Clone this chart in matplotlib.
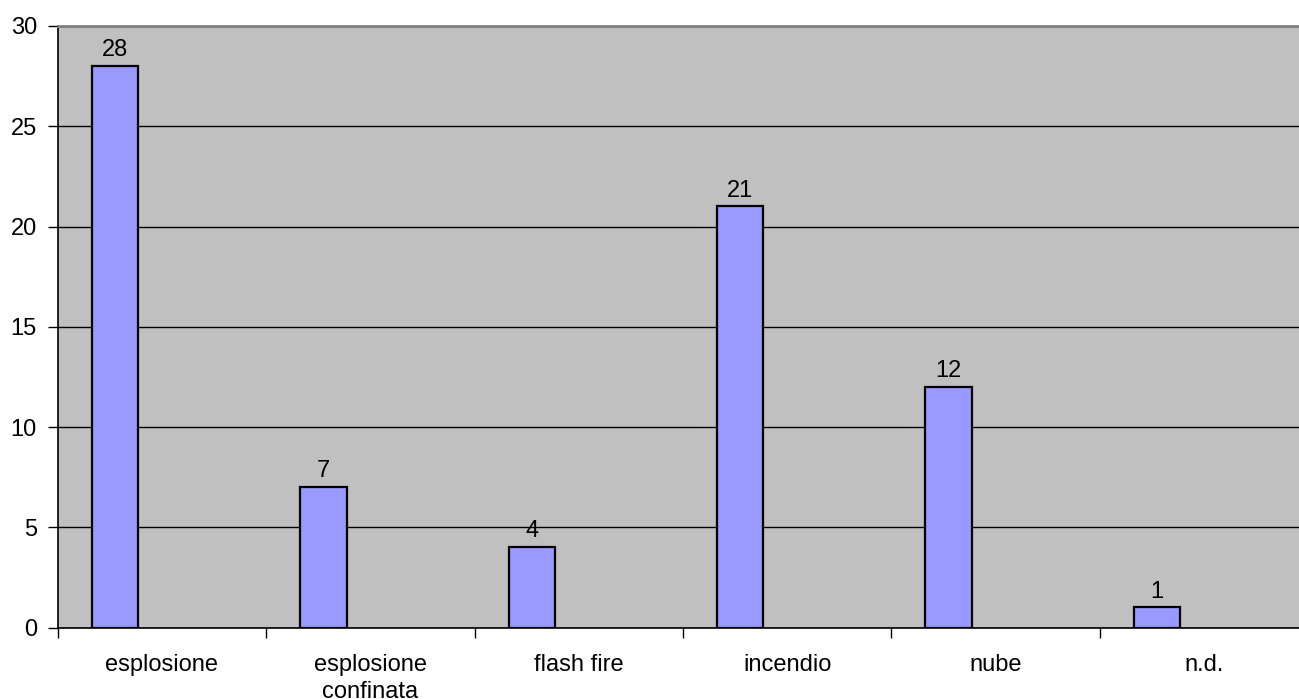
import numpy as np
import matplotlib
matplotlib.use("Agg")
import matplotlib.pyplot as plt

# # # # # # # # # # # # # # # # # # # # # # # # # # # # # # # # # # #
categories = ["esplosione", "esplosione\nconfinata", "flash fire",
              "incendio", "nube", "n.d."]
counts = [28, 7, 4, 21, 12, 1]
yticks = [0, 5, 10, 15, 20, 25, 30]

plt.rcParams['font.family'] = ['Liberation Sans', 'DejaVu Sans']
fs = 17

fig = plt.figure(figsize=(12.99, 6.99), dpi=100)
# plot area runs a little past the right edge of the figure
ax = fig.add_axes([57.7/1299, 1-627.5/699, 1250.4/1299, (627.5-26)/699])
ax.set_facecolor('#C0C0C0')

x = np.arange(len(categories))
ax.bar(x - 0.225, counts, width=0.2235, color='#9999FF',
       edgecolor='black', linewidth=1.6, zorder=3)
for xi, v in zip(x, counts):
    ax.annotate(str(v), (xi - 0.225, v), xytext=(0, 3.5),
                textcoords='offset points', ha='center', va='bottom',
                fontsize=fs)

ax.set_xlim(-0.5, len(categories) - 0.5)
ax.set_ylim(0, 30)
ax.set_yticks(yticks)
ax.yaxis.grid(True, color='black', linewidth=1.0, zorder=1)
ax.set_axisbelow(True)

# tick marks on category boundaries, labels at category centres
ax.set_xticks(np.arange(len(categories) + 1) - 0.5)
ax.set_xticklabels([])
ax.set_xticks(x, minor=True)
ax.set_xticklabels(categories, minor=True, fontsize=fs, linespacing=1.3)
ax.tick_params(axis='x', which='major', length=7, width=1, direction='out')
ax.tick_params(axis='x', which='minor', length=0, pad=19)
ax.tick_params(axis='y', length=7, width=1, direction='out', labelsize=fs, pad=8)

ax.spines['top'].set_color('#808080')
ax.spines['top'].set_linewidth(2)
ax.spines['right'].set_visible(False)
ax.spines['left'].set_color('black')
ax.spines['bottom'].set_color('black')
ax.spines['left'].set_linewidth(1.2)
ax.spines['bottom'].set_linewidth(1.2)

fig.savefig("out.png", dpi=100)
